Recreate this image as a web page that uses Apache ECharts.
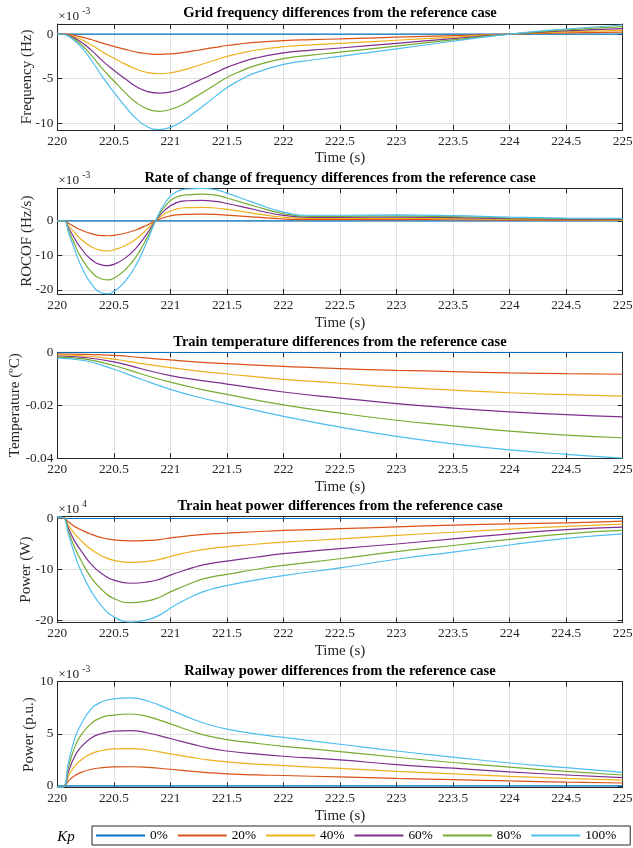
<!DOCTYPE html>
<html><head><meta charset="utf-8">
<script src="https://cdn.jsdelivr.net/npm/echarts@6/dist/echarts.min.js"></script>
<style>html,body{margin:0;padding:0;background:#fff}#c{width:633px;height:848px}</style>
</head><body><div id="c"></div>
<script>
const FONT = 'Liberation Serif';
const seriesNames = ['0%', '20%', '40%', '60%', '80%', '100%'];
const colors = ['#0072BD', '#D95319', '#EDB120', '#7E2F8E', '#77AC30', '#4DBEEE'];

// ---- Plot 1: grid frequency differences (x1e-3 Hz)
const tFreq = [220, 220.05, 220.1, 220.2, 220.3, 220.4, 220.5, 220.6, 220.7, 220.8, 220.9, 221, 221.1, 221.2, 221.3, 221.4, 221.5, 221.6, 221.75, 222, 222.25, 222.5, 223, 223.5, 224, 224.5, 225];
const freq0   = [0,0,0,0,0,0,0,0,0,0,0,0,0,0,0,0,0,0,0,0,0,0,0,0,0,0,0];
const freq20  = [0, 0, -0.05, -0.28, -0.61, -1.02, -1.38, -1.72, -2.01, -2.2, -2.27, -2.22, -2.08, -1.89, -1.68, -1.48, -1.28, -1.12, -0.93, -0.73, -0.62, -0.54, -0.35, -0.17, 0, 0.13, 0.22];
const freq40  = [0, -0.01, -0.1, -0.54, -1.2, -2.0, -2.7, -3.36, -3.94, -4.32, -4.44, -4.34, -4.07, -3.7, -3.3, -2.9, -2.5, -2.2, -1.81, -1.42, -1.21, -1.05, -0.69, -0.33, 0, 0.25, 0.42];
const freq60  = [0, -0.01, -0.15, -0.8, -1.8, -3.0, -4.05, -5.0, -5.9, -6.45, -6.62, -6.48, -6.08, -5.5, -4.92, -4.32, -3.73, -3.27, -2.7, -2.11, -1.8, -1.56, -1.03, -0.5, 0, 0.37, 0.62];
const freq80  = [0, -0.02, -0.2, -1.05, -2.35, -3.9, -5.25, -6.55, -7.7, -8.4, -8.65, -8.45, -7.95, -7.2, -6.43, -5.65, -4.87, -4.27, -3.53, -2.75, -2.35, -2.03, -1.34, -0.65, 0, 0.48, 0.83];
const freq100 = [0, -0.02, -0.25, -1.3, -2.9, -4.8, -6.5, -8.1, -9.5, -10.4, -10.7, -10.45, -9.8, -8.9, -7.95, -6.95, -6.0, -5.25, -4.35, -3.4, -2.9, -2.5, -1.65, -0.8, 0, 0.57, 1.02];
const freqTicks = [-10, -5, 0];

// ---- Plot 2: ROCOF differences (x1e-3 Hz/s)
const tRocof = [220, 220.06, 220.1, 220.15, 220.2, 220.3, 220.4, 220.45, 220.5, 220.6, 220.7, 220.8, 220.87, 220.95, 221.05, 221.15, 221.28, 221.4, 221.5, 221.75, 222, 222.25, 222.5, 223, 223.5, 224, 224.5, 225];
const rocof0   = [0,0,0,0,0,0,0,0,0,0,0,0,0,0,0,0,0,0,0,0,0,0,0,0,0,0,0,0];
const rocof20  = [0, 0, -0.72, -1.65, -2.5, -3.7, -4.3, -4.33, -4.2, -3.6, -2.6, -1.13, 0, 1.0, 1.7, 1.88, 1.92, 1.85, 1.65, 1.05, 0.52, 0.33, 0.33, 0.35, 0.31, 0.22, 0.17, 0.15];
const rocof40  = [0, 0, -1.45, -3.3, -5.05, -7.5, -8.6, -8.7, -8.4, -7.2, -5.2, -2.25, 0, 2.05, 3.4, 3.8, 3.9, 3.7, 3.3, 2.1, 1.03, 0.66, 0.66, 0.7, 0.62, 0.43, 0.33, 0.29];
const rocof60  = [0, 0, -2.15, -4.9, -7.55, -11.2, -12.8, -12.95, -12.6, -10.8, -7.75, -3.4, 0, 3.1, 5.2, 5.8, 5.9, 5.6, 5.0, 3.2, 1.55, 1.0, 1.0, 1.05, 0.92, 0.65, 0.5, 0.43];
const rocof80  = [0, 0, -2.8, -6.5, -10.0, -14.7, -16.9, -17.1, -16.6, -14.2, -10.2, -4.5, 0, 4.1, 6.8, 7.5, 7.7, 7.4, 6.6, 4.2, 2.05, 1.3, 1.3, 1.4, 1.2, 0.85, 0.65, 0.57];
const rocof100 = [0, 0, -3.5, -8.0, -12.3, -18.2, -20.9, -21.1, -20.5, -17.5, -12.6, -5.5, 0, 5.0, 8.3, 9.2, 9.4, 9.0, 8.0, 5.1, 2.5, 1.6, 1.6, 1.7, 1.5, 1.05, 0.8, 0.7];
const rocofTicks = [-20, -10, 0];

// ---- Plot 3: train temperature differences (degC)
const tTemp = [220, 220.25, 220.5, 220.75, 221, 221.25, 221.5, 222, 222.5, 223, 223.5, 224, 224.5, 225];
const temp0   = [0,0,0,0,0,0,0,0,0,0,0,0,0,0];
const temp20  = [-0.0006, -0.0008, -0.0012, -0.002, -0.0029, -0.0037, -0.0043, -0.0053, -0.0062, -0.0068, -0.0073, -0.0078, -0.0081, -0.0083];
const temp40  = [-0.001, -0.0014, -0.0026, -0.0043, -0.0058, -0.0071, -0.0082, -0.0102, -0.0117, -0.0132, -0.0143, -0.0153, -0.016, -0.0166];
const temp60  = [-0.0014, -0.002, -0.0036, -0.0063, -0.0088, -0.0105, -0.012, -0.015, -0.0173, -0.0194, -0.0211, -0.0225, -0.0236, -0.0244];
const temp80  = [-0.0018, -0.0026, -0.005, -0.0083, -0.0113, -0.0138, -0.0159, -0.0199, -0.023, -0.0257, -0.0278, -0.0298, -0.0313, -0.0323];
const temp100 = [-0.0022, -0.0032, -0.0064, -0.0103, -0.014, -0.017, -0.0195, -0.0242, -0.0283, -0.0318, -0.0346, -0.0369, -0.0386, -0.04];
const tempTicks = [-0.04, -0.02, 0];

// ---- Plot 4: train heat power differences (x1e4 W)
const tHeat = [220, 220.05, 220.1, 220.15, 220.2, 220.3, 220.4, 220.5, 220.65, 220.8, 220.9, 221, 221.1, 221.2, 221.3, 221.4, 221.5, 221.75, 222, 222.5, 223, 223.5, 224, 224.5, 225];
const heat0   = [0,0,0,0,0,0,0,0,0,0,0,0,0,0,0,0,0,0,0,0,0,0,0,0,0];
const heat20  = [0.15, 0.1, -0.7, -1.5, -2.1, -3.1, -3.8, -4.2, -4.4, -4.3, -4.15, -3.8, -3.55, -3.3, -3.12, -2.98, -2.88, -2.6, -2.35, -2.0, -1.65, -1.3, -1.05, -0.85, -0.5];
const heat40  = [0.2, 0.15, -1.4, -2.9, -4.1, -6.1, -7.4, -8.2, -8.6, -8.4, -8.05, -7.45, -6.9, -6.45, -6.05, -5.75, -5.55, -5.05, -4.65, -4.0, -3.3, -2.7, -2.1, -1.55, -1.1];
const heat60  = [0.25, 0.2, -2.0, -4.3, -6.0, -9.0, -10.9, -12.1, -12.7, -12.45, -11.95, -11.1, -10.35, -9.65, -9.05, -8.65, -8.35, -7.6, -6.9, -5.9, -5.0, -4.0, -3.0, -2.2, -1.7];
const heat80  = [0.3, 0.2, -2.6, -5.5, -7.8, -11.6, -14.1, -15.7, -16.5, -16.15, -15.5, -14.4, -13.45, -12.55, -11.8, -11.3, -10.95, -10.0, -9.2, -7.9, -6.5, -5.3, -4.1, -3.0, -2.35];
const heat100 = [0.3, 0.2, -3.2, -6.8, -9.8, -14.3, -17.4, -19.3, -20.3, -19.85, -19.0, -17.6, -16.3, -15.2, -14.3, -13.65, -13.15, -12.1, -11.2, -9.7, -8.0, -6.6, -5.2, -3.9, -3.0];
const heatTicks = [-20, -10, 0];

// ---- Plot 5: railway power differences (x1e-3 p.u.)
const tRail = [220, 220.05, 220.1, 220.15, 220.2, 220.3, 220.4, 220.5, 220.65, 220.8, 221, 221.2, 221.35, 221.5, 221.75, 222, 222.5, 223, 223.5, 224, 224.5, 225];
const rail0   = [0,0,0,0,0,0,0,0,0,0,0,0,0,0,0,0,0,0,0,0,0,0];
const rail20  = [-0.12, -0.1, 0.5, 0.95, 1.25, 1.6, 1.75, 1.82, 1.84, 1.78, 1.6, 1.4, 1.26, 1.16, 1.06, 1.0, 0.86, 0.72, 0.6, 0.48, 0.37, 0.28];
const rail40  = [-0.12, -0.1, 0.95, 1.85, 2.4, 3.1, 3.4, 3.55, 3.57, 3.45, 3.08, 2.72, 2.48, 2.3, 2.1, 1.95, 1.68, 1.4, 1.15, 0.92, 0.72, 0.55];
const rail60  = [-0.12, -0.1, 1.4, 2.75, 3.6, 4.6, 5.05, 5.25, 5.3, 5.08, 4.55, 3.98, 3.6, 3.35, 3.07, 2.85, 2.5, 2.05, 1.7, 1.35, 1.05, 0.8];
const rail80  = [-0.12, -0.1, 1.85, 3.6, 4.7, 6.0, 6.6, 6.8, 6.9, 6.65, 5.95, 5.2, 4.75, 4.45, 4.1, 3.8, 3.3, 2.75, 2.25, 1.8, 1.4, 1.05];
const rail100 = [-0.12, -0.1, 2.3, 4.4, 5.7, 7.4, 8.1, 8.35, 8.45, 8.15, 7.3, 6.4, 5.85, 5.45, 5.0, 4.65, 4.0, 3.35, 2.77, 2.2, 1.75, 1.3];
const railTicks = [0, 5, 10];

const intFmt = v => String(Math.round(v));
const tempFmt = v => (Math.abs(v) < 1e-9 ? '0' : v.toFixed(2));

const plots = [
  {title: 'Grid frequency differences from the reference case', ylabel: 'Frequency (Hz)', t: tFreq,
   ys: [freq0, freq20, freq40, freq60, freq80, freq100], min: -10.72, max: 1.13, ticks: freqTicks, fmt: intFmt,
   exp: '-3', top: 24, nameGap: 23},
  {title: 'Rate of change of frequency differences from the reference case', ylabel: 'ROCOF (Hz/s)', t: tRocof,
   ys: [rocof0, rocof20, rocof40, rocof60, rocof80, rocof100], min: -21.2, max: 9.4, ticks: rocofTicks, fmt: intFmt,
   exp: '-3', top: 188.3, nameGap: 23},
  {title: 'Train temperature differences from the reference case', ylabel: 'Temperature (ºC)', t: tTemp,
   ys: [temp0, temp20, temp40, temp60, temp80, temp100], min: -0.04, max: 0, ticks: tempTicks, fmt: tempFmt,
   exp: null, top: 352.3, nameGap: 35},
  {title: 'Train heat power differences from the reference case', ylabel: 'Power (W)', t: tHeat,
   ys: [heat0, heat20, heat40, heat60, heat80, heat100], min: -20.4, max: 0.35, ticks: heatTicks, fmt: intFmt,
   exp: '4', top: 516.7, nameGap: 23.5},
  {title: 'Railway power differences from the reference case', ylabel: 'Power (p.u.)', t: tRail,
   ys: [rail0, rail20, rail40, rail60, rail80, rail100], min: -0.15, max: 10, ticks: railTicks, fmt: intFmt,
   exp: '-3', top: 681.7, nameGap: 21}
];

const PLOT_LEFT = 57.3, PLOT_W = 565.4, PLOT_H = 105.8;
const AXC = '#262626';
const option = {
  animation: false, backgroundColor: '#fff',
  title: [], grid: [], xAxis: [], yAxis: [], series: [], graphic: [],
  legend: {
    data: seriesNames.map(n => ({name: n, icon: 'rect'})),
    selectedMode: false, orient: 'horizontal',
    left: 92, top: 826, itemWidth: 49, itemHeight: 2, itemGap: 10,
    padding: [3, 14, 3, 4], borderColor: AXC, borderWidth: 1,
    textStyle: {fontFamily: FONT, fontSize: 13.3, color: '#000'}
  }
};

plots.forEach((p, i) => {
  option.grid.push({left: PLOT_LEFT, width: PLOT_W, top: p.top, height: PLOT_H, containLabel: false, outerBoundsMode: 'none'});
  option.title.push({text: p.title, left: PLOT_LEFT + PLOT_W / 2, top: p.top - 18, textAlign: 'center', padding: 0,
    textStyle: {fontFamily: FONT, fontSize: 14.5, fontWeight: 'bold', color: '#000'}});
  const axisLine = {show: true, onZero: false, lineStyle: {color: AXC, width: 1}};
  const tick = {show: true, inside: true, length: 5, lineStyle: {color: AXC, width: 1}};
  const labelStyle = {fontFamily: FONT, fontSize: 13.3, color: AXC};
  const nameStyle = {fontFamily: FONT, fontSize: 15, color: AXC};
  const grid = {show: true, lineStyle: {color: '#e1e1e1', width: 1}};
  option.xAxis.push({gridIndex: i, type: 'value', min: 220, max: 225, interval: 0.5, position: 'bottom',
    axisLine, axisTick: tick, axisLabel: Object.assign({margin: 5}, labelStyle), splitLine: grid,
    name: 'Time (s)', nameLocation: 'middle', nameGap: 21, nameTextStyle: nameStyle, nameMoveOverlap: false});
  option.xAxis.push({gridIndex: i, type: 'value', min: 220, max: 225, interval: 0.5, position: 'top',
    axisLine, axisTick: tick, axisLabel: {show: false}, splitLine: {show: false}});
  option.yAxis.push({gridIndex: i, type: 'value', min: p.min, max: p.max, position: 'left',
    axisLine, axisTick: Object.assign({customValues: p.ticks}, tick),
    axisLabel: Object.assign({customValues: p.ticks, formatter: p.fmt, margin: 4}, labelStyle),
    splitLine: grid, name: p.ylabel, nameLocation: 'middle', nameGap: p.nameGap, nameTextStyle: nameStyle,
    nameMoveOverlap: false});
  option.yAxis.push({gridIndex: i, type: 'value', min: p.min, max: p.max, position: 'right',
    axisLine, axisTick: Object.assign({customValues: p.ticks}, tick), axisLabel: {show: false}, splitLine: {show: false}});
  p.ys.forEach((arr, k) => {
    option.series.push({type: 'line', name: seriesNames[k], xAxisIndex: 2 * i, yAxisIndex: 2 * i,
      data: p.t.map((t, j) => [t, arr[j]]), showSymbol: false, symbol: 'none', smooth: 0.5,
      lineStyle: {width: 1.2, color: colors[k]}, itemStyle: {color: colors[k]}});
  });
  if (p.exp) {
    option.graphic.push({type: 'text', x: PLOT_LEFT + 1, y: p.top - 7.5,
      style: {text: '×10', fontFamily: FONT, fontSize: 13.3, fill: AXC, verticalAlign: 'middle', align: 'left'}});
    option.graphic.push({type: 'text', x: PLOT_LEFT + 25, y: p.top - 12.5,
      style: {text: p.exp, fontFamily: FONT, fontSize: 9.5, fill: AXC, verticalAlign: 'middle', align: 'left'}});
  }
});

option.graphic.push({type: 'text', x: 66, y: 837,
  style: {text: 'Kp', fontFamily: FONT, fontSize: 15, fontStyle: 'italic', fill: '#000', verticalAlign: 'middle', align: 'center'}});

const chart = echarts.init(document.getElementById('c'), null, {renderer: 'canvas'});
chart.setOption(option);
</script>
</body></html>
